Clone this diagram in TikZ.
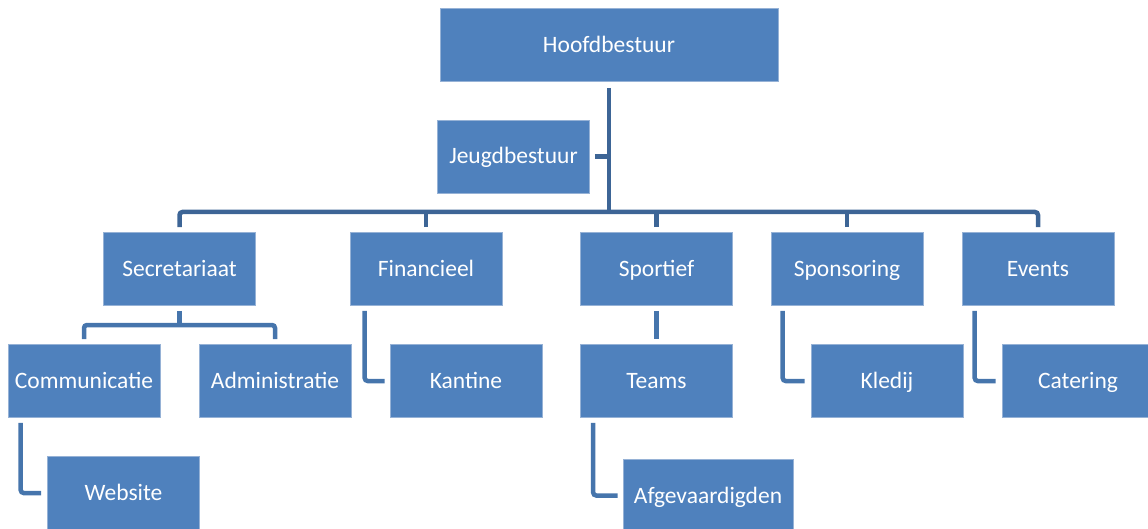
\documentclass[tikz,border=0pt]{standalone}
\usepackage{fontspec}
\setmainfont{Carlito}
\definecolor{boxfill}{RGB}{79,129,189}
\definecolor{boxedge}{RGB}{150,178,214}
\definecolor{topline}{RGB}{61,101,150}
\definecolor{subline}{RGB}{70,117,172}

\begin{document}
\begin{tikzpicture}[x=1pt, y=1pt,
        box/.style = {draw=boxedge, line width=0.6pt, fill=boxfill, text=white,
            minimum width=152pt, minimum height=73pt, inner sep=0pt,
            text height=15pt, text depth=0pt, font=\fontsize{23.5}{28}\selectfont},
        link/.style = {draw=topline, line width=4.5pt, rounded corners=3pt},
        sublink/.style = {link, draw=subline}]
    \useasboundingbox (0,0) rectangle (1148,-529);
    \clip (0,0) rectangle (1148,-529);
        \node[box, minimum width=338pt] (hoofd) at (609,-45) {Hoofdbestuur};
        \node[box] (jeugd) at (513.5,-156.5) {Jeugdbestuur};
        \node[box] (sec) at (179.5,-269) {Secretariaat};
        \node[box] (fin) at (426,-269) {Financieel};
        \node[box] (sport) at (656.5,-269) {Sportief};
        \node[box] (spons) at (847,-269) {Sponsoring};
        \node[box] (events) at (1038,-269) {Events};
        \node[box] (comm) at (84,-381) {Communicatie};
        \node[box] (admin) at (275,-381) {Administratie};
        \node[box] (kantine) at (466,-381) {Kantine};
        \node[box] (teams) at (656.5,-381) {Teams};
        \node[box] (kledij) at (887,-381) {Kledij};
        \node[box] (catering) at (1078,-381) {Catering};
        \node[box] (website) at (123.5,-493) {Website};
        \node[box, minimum width=170pt] (afgev) at (708,-495.5) {Afgevaardigden};
        \coordinate (bus) at (609,-212);
        \coordinate (secbus) at (179.5,-325);
        % hoofdbestuur
        \draw[link] ([yshift=-6pt]hoofd.south) -- (bus);
        \draw[link] ([xshift=5pt]jeugd.east) -- (jeugd.east -| bus);
        \draw[link] ([yshift=5pt]sec.north) |- (bus) -| ([yshift=5pt]events.north);
        \draw[link] ([yshift=5pt]fin.north) -- (fin.north |- bus);
        \draw[link] ([yshift=5pt]sport.north) -- (sport.north |- bus);
        \draw[link] ([yshift=5pt]spons.north) -- (spons.north |- bus);
        % afdelingen
        \draw[sublink] ([yshift=-5pt]sec.south) -- (secbus);
        \draw[sublink] ([yshift=5pt]comm.north) |- (secbus) -| ([yshift=5pt]admin.north);
        \draw[sublink] ([xshift=15pt,yshift=-5pt]fin.south west) |- ([xshift=-5pt]kantine.west);
        \draw[sublink] ([yshift=-5pt]sport.south) -- ([yshift=5pt]teams.north);
        \draw[sublink] ([xshift=12pt,yshift=-5pt]spons.south west) |- ([xshift=-6pt]kledij.west);
        \draw[sublink] ([xshift=13pt,yshift=-5pt]events.south west) |- ([xshift=-6pt]catering.west);
        \draw[sublink] ([xshift=13pt,yshift=-5pt]comm.south west) |- ([xshift=-6pt]website.west);
        \draw[sublink] ([xshift=13pt,yshift=-5pt]teams.south west) |- ([xshift=-5pt]afgev.west);
\end{tikzpicture}
\end{document}
